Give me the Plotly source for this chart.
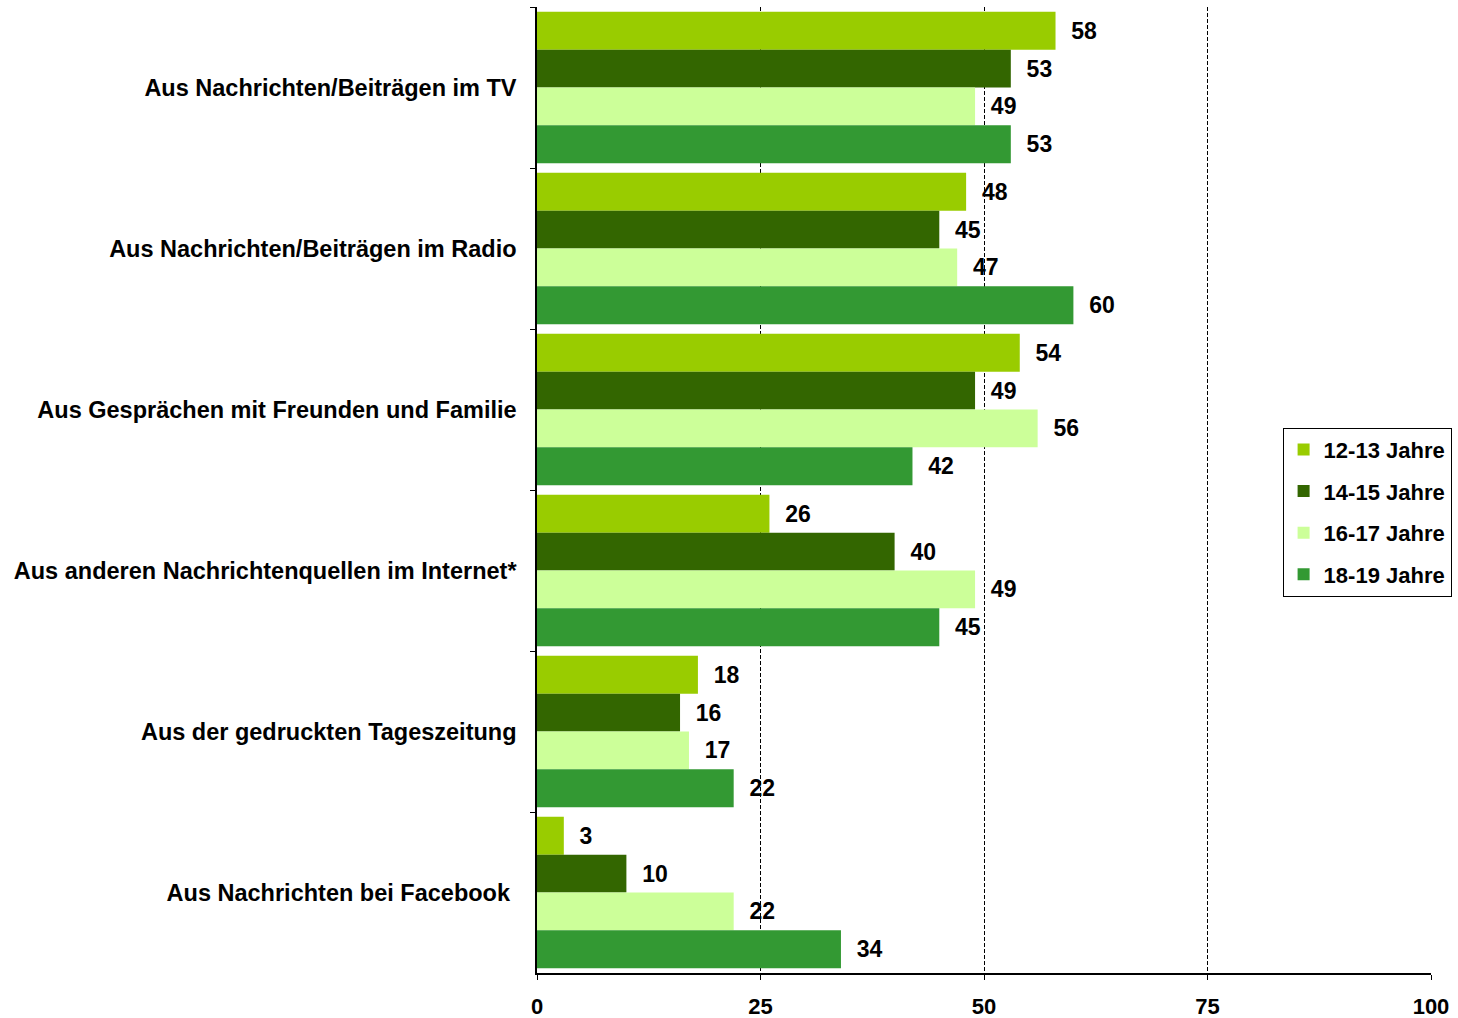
import plotly.graph_objects as go

categories = [
    "Aus Nachrichten/Beiträgen im TV",
    "Aus Nachrichten/Beiträgen im Radio",
    "Aus Gesprächen mit Freunden und Familie",
    "Aus anderen Nachrichtenquellen im Internet*",
    "Aus der gedruckten Tageszeitung",
    "Aus Nachrichten bei Facebook\u00a0",
]
series_names = ["12-13 Jahre", "14-15 Jahre", "16-17 Jahre", "18-19 Jahre"]
v_12_13 = [58, 48, 54, 26, 18, 3]
v_14_15 = [53, 45, 49, 40, 16, 10]
v_16_17 = [49, 47, 56, 49, 17, 22]
v_18_19 = [53, 60, 42, 45, 22, 34]
x_ticks = [0, 25, 50, 75, 100]

series_values = [v_12_13, v_14_15, v_16_17, v_18_19]
colors = ["#99CC00", "#336600", "#CCFF99", "#339933"]

FONT = "Arial, 'Liberation Sans', sans-serif"

fig = go.Figure()
for name, vals, col in zip(series_names, series_values, colors):
    fig.add_trace(go.Bar(
        y=categories, x=vals, name=name, orientation="h",
        legendgroup=name,
        marker=dict(color=col, line=dict(width=0)),
        text=vals, texttemplate="  %{x}", textposition="outside",
        cliponaxis=False,
        textfont=dict(family=FONT, size=23, color="black", weight="bold"),
    ))

fig.update_layout(
    width=1458, height=1018,
    barmode="group", bargap=0.06, bargroupgap=0,
    paper_bgcolor="white", plot_bgcolor="white",
    margin=dict(l=537, r=27, t=7, b=45, autoexpand=False),
    font=dict(family=FONT, size=20, color="black"),
    showlegend=True,
    legend=dict(
        x=0.834, y=0.477, xanchor="left", yanchor="middle",
        bordercolor="black", borderwidth=1, bgcolor="white",
        font=dict(family=FONT, size=22, color="black", weight="bold"),
        itemwidth=30, tracegroupgap=10,
    ),
)

fig.update_xaxes(
    range=[0, 100], tickvals=x_ticks, ticktext=[str(t) for t in x_ticks],
    showgrid=True, gridcolor="black", gridwidth=1, griddash="4px,2px",
    showline=True, linecolor="black", linewidth=1.5,
    ticks="outside", ticklen=5, tickcolor="black",
    tickfont=dict(family=FONT, size=22, color="black", weight="bold"),
    ticklabelstandoff=8, zeroline=False, fixedrange=True, automargin=False,
)
fig.update_yaxes(
    autorange="reversed", categoryorder="array", categoryarray=categories,
    showline=True, linecolor="black", linewidth=1.5,
    ticks="outside", ticklen=5, tickcolor="black", tickson="boundaries",
    tickfont=dict(family=FONT, size=23.5, color="black", weight="bold"),
    ticklabelstandoff=14, showgrid=False, fixedrange=True, automargin=False,
)

fig.write_html("out.html", config={"displayModeBar": False},
               post_script="document.body.style.margin='0';")
